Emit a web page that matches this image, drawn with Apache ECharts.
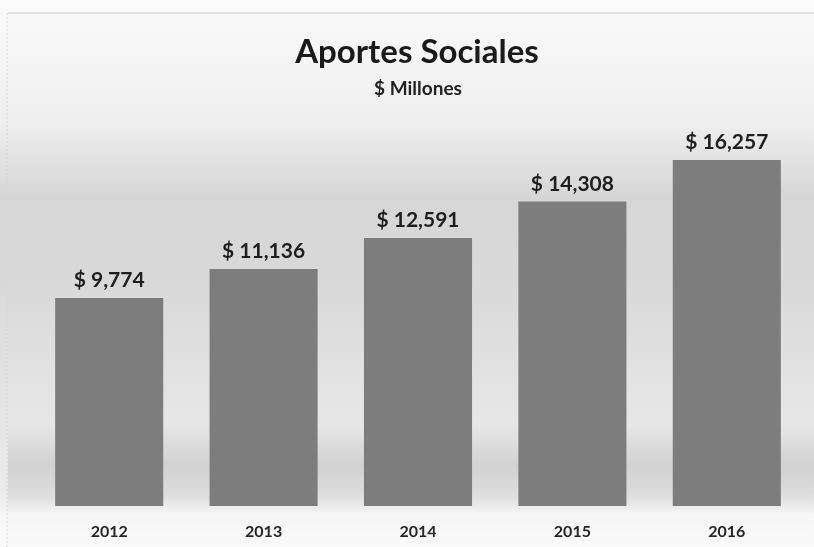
<!DOCTYPE html>
<html>
<head>
<meta charset="utf-8">
<script src="https://cdn.jsdelivr.net/npm/echarts@6/dist/echarts.min.js"></script>
<style>
  html, body { margin: 0; padding: 0; background: #fafafa; }
  #chart { width: 814px; height: 547px; }
</style>
</head>
<body>
<div id="chart"></div>
<script>
// Aportes Sociales, in millions of pesos
const years = ['2012', '2013', '2014', '2015', '2016'];
const aportes = [9774, 11136, 12591, 14308, 16257];
const chartTitle = 'Aportes Sociales';
const chartSubtitle = '$ Millones';

const fmtMoney = v => '$ ' + v.toLocaleString('en-US');

const chart = echarts.init(document.getElementById('chart'));
chart.setOption({
  backgroundColor: new echarts.graphic.LinearGradient(0, 0, 0, 1, [
    { offset: 0.00, color: '#fbfbfb' },
    { offset: 0.22, color: '#efefef' },
    { offset: 0.36, color: '#d6d6d6' },
    { offset: 0.52, color: '#d9d9d9' },
    { offset: 0.72, color: '#e4e4e4' },
    { offset: 0.90, color: '#ebebeb' },
    { offset: 0.94, color: '#f6f6f6' },
    { offset: 1.00, color: '#fafafa' }
  ]),
  animation: false,
  textStyle: { fontFamily: 'Lato, "Open Sans", sans-serif' },
  graphic: [
    // page frame lines
    { type: 'line', shape: { x1: 8, y1: 13, x2: 814, y2: 13 },
      style: { stroke: '#c8c8c8', lineWidth: 1 }, z: 0 },
    { type: 'line', shape: { x1: 7, y1: 13, x2: 7, y2: 547 },
      style: { stroke: '#d6d6d6', lineWidth: 1, lineDash: [2, 2] }, z: 0 },
    // floor shadow behind the bars
    { type: 'rect', shape: { x: 8, y: 425, width: 806, height: 90 }, z: -1,
      style: { fill: new echarts.graphic.LinearGradient(0, 0, 0, 1, [
        { offset: 0, color: 'rgba(0,0,0,0)' },
        { offset: 0.45, color: 'rgba(0,0,0,0.10)' },
        { offset: 0.8, color: 'rgba(0,0,0,0.06)' },
        { offset: 1, color: 'rgba(0,0,0,0)' }
      ]) } },
    { type: 'text', x: 417, y: 52, z: 10,
      style: { text: chartTitle, fill: '#1a1a1a', font: 'bold 33px Lato, "Open Sans", sans-serif',
               textAlign: 'center', textVerticalAlign: 'middle' } },
    { type: 'text', x: 418, y: 89, z: 10,
      style: { text: chartSubtitle, fill: '#222222', font: 'bold 19px Lato, "Open Sans", sans-serif',
               textAlign: 'center', textVerticalAlign: 'middle' } }
  ],
  grid: { left: 32, right: 10, top: 123, bottom: 41, containLabel: false },
  xAxis: {
    type: 'category',
    data: years,
    axisLine: { show: false },
    axisTick: { show: false },
    axisLabel: { color: '#262626', fontSize: 16, fontWeight: 'bold', margin: 18 }
  },
  yAxis: {
    type: 'value',
    min: 0,
    max: 18000,
    show: false,
    splitLine: { show: false }
  },
  series: [{
    type: 'bar',
    data: aportes,
    barWidth: '70%',
    itemStyle: { color: '#7d7d7d' },
    label: {
      show: true,
      position: 'top',
      distance: 7,
      color: '#1e1e1e',
      fontSize: 21,
      fontWeight: 'bold',
      formatter: p => fmtMoney(p.value)
    }
  }]
});
</script>
</body>
</html>
